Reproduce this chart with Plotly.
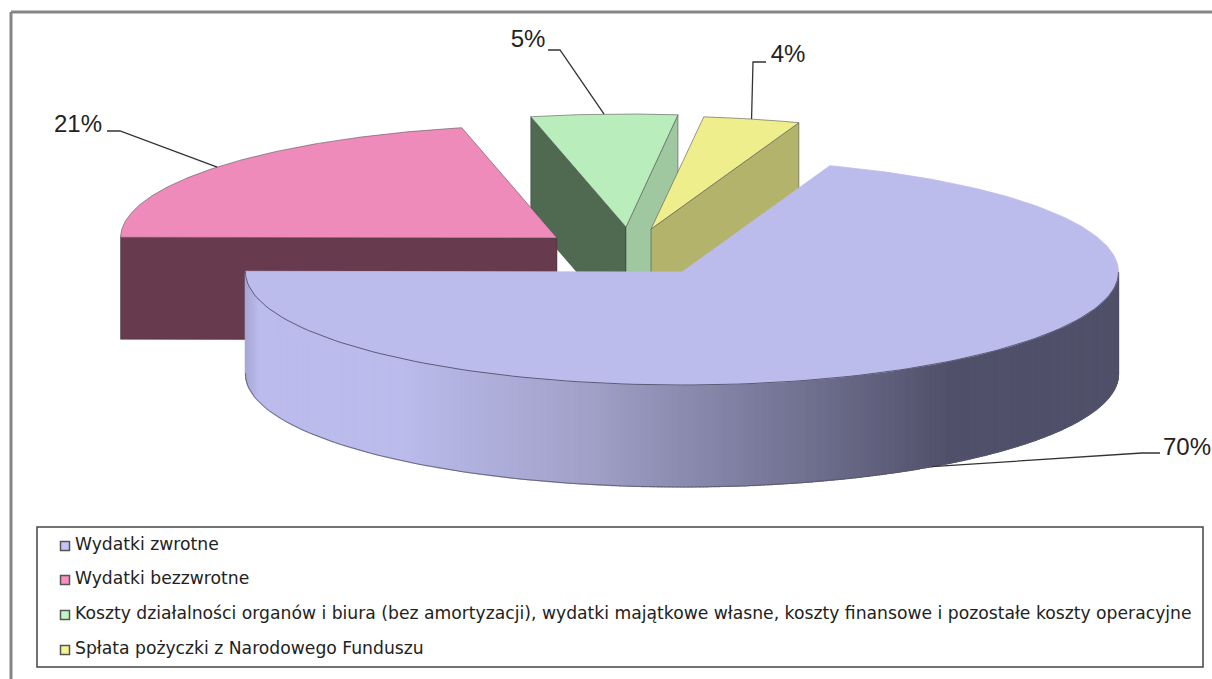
import math
import plotly.graph_objects as go

categories = [
    "Wydatki zwrotne",
    "Wydatki bezzwrotne",
    "Koszty działalności organów i biura (bez amortyzacji), wydatki majątkowe własne, koszty finansowe i pozostałe koszty operacyjne",
    "Spłata pożyczki z Narodowego Funduszu",
]
values = [69.6, 21.4, 5.4, 3.6]
top_colors = ["#bbbbec", "#ee8bbb", "#b9edbb", "#eeee8c"]
swatch_colors = ["#c4c4fa", "#fb8fc0", "#c2f5c4", "#f6f68e"]

W, H = 1212, 679
RX, RY, DEPTH = 436.5, 113, 102
START = 19.8
centers = [(682, 272), (557, 238), (626, 227), (651, 229)]
# elbow end nearest the text, elbow, label centre
leaders = [
    ((1160, 453), (1142, 453), (1187, 449)),
    ((107, 131), (120, 131), (78, 126)),
    ((548, 50), (560, 50), (528, 41)),
    ((766, 62), (753, 62), (788, 56)),
]
# which straight cut faces show: (slice, "start"/"end", colour)
faces = [
    (2, "start", "#4f6a50"),
    (2, "end", "#a0c8a0"),
    (1, "start", "#673a4e"),
    (3, "end", "#b3b36c"),
]
wall_stops = [(244, (0xa6, 0xa6, 0xd4)), (258, (0xbb, 0xbb, 0xec)), (400, (0xbb, 0xbb, 0xec)),
              (590, (0xa0, 0xa0, 0xc8)), (950, (0x50, 0x50, 0x6a)), (1120, (0x50, 0x50, 0x6a))]

total = sum(values)
angles = []
a = START
for v in values:
    b = a + v / total * 360
    angles.append((a, b))
    a = b


def pt(c, deg, dz=0):
    t = math.radians(deg)
    return c[0] + RX * math.sin(t), c[1] - RY * math.cos(t) + dz


def arc(c, a0, a1, dz=0, n=120):
    return [pt(c, a0 + (a1 - a0) * i / n, dz) for i in range(n + 1)]


def poly(points, fill, line=None, lw=0.8, name=None):
    xs = [p[0] for p in points] + [points[0][0]]
    ys = [p[1] for p in points] + [points[0][1]]
    return go.Scatter(x=xs, y=ys, mode="lines", fill="toself", fillcolor=fill,
                      line=dict(color=line or fill, width=lw), hoverinfo="skip",
                      showlegend=False, name=name)


def curve(points, color, lw):
    return go.Scatter(x=[p[0] for p in points], y=[p[1] for p in points], mode="lines",
                      line=dict(color=color, width=lw), hoverinfo="skip", showlegend=False)


def wall_color(x):
    for (x0, c0), (x1, c1) in zip(wall_stops, wall_stops[1:]):
        if x <= x1:
            f = max(0, (x - x0) / (x1 - x0))
            return "rgb(%d,%d,%d)" % tuple(round(p + (q - p) * f) for p, q in zip(c0, c1))
    return "rgb(80,80,106)"


def face_poly(i, which, color):
    c = centers[i]
    deg = angles[i][0] if which == "start" else angles[i][1]
    p = pt(c, deg)
    return poly([c, p, (p[0], p[1] + DEPTH), (c[0], c[1] + DEPTH)], color, "#3a3a3a", 0.5)


fig = go.Figure()

# draw order back to front: green, pink, yellow, blue
for i in [2, 1, 3]:
    for s, which, col in faces:
        if s == i:
            fig.add_trace(face_poly(s, which, col))
    a0, a1 = angles[i]
    fig.add_trace(poly([centers[i]] + arc(centers[i], a0, a1), top_colors[i], "#555555", 0.6,
                       name=categories[i]))

# main slice: outer wall strips (front half of the rim), then its top
c0 = centers[0]
a0, a1 = angles[0]
wall_from = 90
n_strips = 360
for k in range(n_strips):
    d0 = wall_from + (a1 - wall_from) * k / n_strips
    d1 = wall_from + (a1 - wall_from) * (k + 1) / n_strips
    seg = arc(c0, d0, d1, 0, 2)
    low = arc(c0, d1, d0, DEPTH, 2)
    xm = (seg[0][0] + seg[-1][0]) / 2
    fig.add_trace(poly(seg + low, wall_color(xm), lw=1.2))
fig.add_trace(curve(arc(c0, wall_from, a1, DEPTH), "#55556a", 0.8))
fig.add_trace(poly([c0] + arc(c0, a0, a1, 0, 240), top_colors[0], name=categories[0]))
fig.add_trace(curve(arc(c0, wall_from, a1, 0), "#50506a", 0.9))

# leader lines, anchored on each slice's outer edge at its mid angle
for i, (end, elbow, _) in enumerate(leaders):
    mid = sum(angles[i]) / 2
    anchor = pt(centers[i], mid, DEPTH if i == 0 else 0)
    fig.add_trace(curve([anchor, elbow, end], "#333333", 1.3))

# percentage labels
fig.add_trace(go.Scatter(
    x=[l[2][0] for l in leaders], y=[l[2][1] for l in leaders],
    text=[f"{v:.0f}%" for v in values], mode="text", textposition="middle center",
    textfont=dict(family="Liberation Sans", size=24, color="#222222"),
    hoverinfo="skip", showlegend=False, cliponaxis=False))

# legend box contents
legend_rows = [546, 580, 615, 650]
fig.add_trace(go.Scatter(
    x=[65] * 4, y=legend_rows, mode="markers",
    marker=dict(symbol="square", size=9, color=swatch_colors, line=dict(color="#555555", width=1.5)),
    hoverinfo="skip", showlegend=False))
fig.add_trace(go.Scatter(
    x=[75] * 4, y=legend_rows, text=categories, mode="text", textposition="middle right",
    textfont=dict(family="DejaVu Sans", size=17.2, color="#222222"),
    hoverinfo="text", showlegend=False))

fig.update_layout(
    width=W, height=H, margin=dict(l=0, r=0, t=0, b=0),
    paper_bgcolor="white", plot_bgcolor="white", showlegend=False,
    xaxis=dict(range=[0, W], visible=False, fixedrange=True),
    yaxis=dict(range=[H, 0], visible=False, fixedrange=True),
    shapes=[
        dict(type="line", xref="x", yref="y", x0=11, y0=12, x1=W, y1=12,
             line=dict(color="#868686", width=3), layer="below"),
        dict(type="line", xref="x", yref="y", x0=11, y0=12, x1=11, y1=H,
             line=dict(color="#868686", width=3), layer="below"),
        dict(type="rect", xref="x", yref="y", x0=37, y0=527, x1=1203, y1=667,
             line=dict(color="#444444", width=1.5), fillcolor="white", layer="below"),
    ],
)

fig.write_html("out.html", config={"displayModeBar": False},
               post_script="document.body.style.margin='0';document.body.style.overflow='hidden';")
